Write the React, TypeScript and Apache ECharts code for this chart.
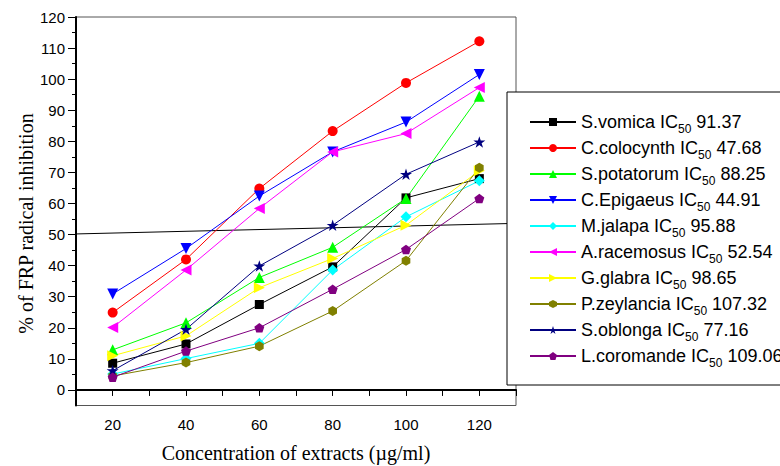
import React, { useEffect, useRef } from "react";
import * as echarts from "echarts";

const xValues = [20, 40, 60, 80, 100, 120];
const seriesNames = [
  "S.vomica",
  "C.colocynth",
  "S.potatorum",
  "C.Epigaeus",
  "M.jalapa",
  "A.racemosus",
  "G.glabra",
  "P.zeylancia",
  "S.oblonga",
  "L.coromande",
];
const ic50Values = ["91.37", "47.68", "88.25", "44.91", "95.88", "52.54", "98.65", "107.32", "77.16", "109.06"];

const sVomica = [8.6, 14.8, 27.5, 39.6, 61.8, 68.0];
const cColocynth = [24.9, 42.0, 64.8, 83.3, 98.8, 112.2];
const sPotatorum = [12.9, 21.6, 36.2, 45.9, 61.6, 94.5];
const cEpigaeus = [30.9, 45.5, 62.4, 76.6, 86.2, 101.5];
const mJalapa = [5.1, 10.1, 15.0, 38.6, 55.7, 67.3];
const aRacemosus = [20.1, 38.6, 58.4, 76.6, 82.5, 97.3];
const gGlabra = [11.0, 17.4, 32.9, 42.3, 53.0, 70.5];
const pZeylancia = [4.5, 8.8, 14.1, 25.4, 41.6, 71.5];
const sOblonga = [6.2, 19.5, 39.9, 53.0, 69.4, 79.8];
const lCoromande = [4.1, 12.5, 20.0, 32.4, 45.2, 61.6];

const thresholdX = [10, 130];
const thresholdY = [50.2, 53.6];

const yMajorTicks = [0, 10, 20, 30, 40, 50, 60, 70, 80, 90, 100, 110, 120];
const yMinorTicks = [5, 15, 25, 35, 45, 55, 65, 75, 85, 95, 105, 115];

const allValues = [sVomica, cColocynth, sPotatorum, cEpigaeus, mJalapa, aRacemosus, gGlabra, pZeylancia, sOblonga, lCoromande];

const STAR = "path://M50,0 L61.2,34.5 L97.6,34.5 L68.2,55.9 L79.4,90.5 L50,69.1 L20.6,90.5 L31.8,55.9 L2.4,34.5 L38.8,34.5 Z";
const PENTAGON = "path://M50,0 L97.6,34.5 L79.4,90.5 L20.6,90.5 L2.4,34.5 Z";
const HEXAGON = "path://M50,0 L93.3,25 L93.3,75 L50,100 L6.7,75 L6.7,25 Z";

const styles = [
  { color: "#000000", symbol: "rect", size: 9, rotate: 0 },
  { color: "#ff0000", symbol: "circle", size: 10, rotate: 0 },
  { color: "#00ff00", symbol: "triangle", size: 11, rotate: 0 },
  { color: "#0000ff", symbol: "triangle", size: 11, rotate: 180 },
  { color: "#00ffff", symbol: "diamond", size: 11, rotate: 0 },
  { color: "#ff00ff", symbol: "triangle", size: 11, rotate: 90 },
  { color: "#ffff00", symbol: "triangle", size: 11, rotate: -90 },
  { color: "#808000", symbol: HEXAGON, size: 10, rotate: 0 },
  { color: "#000080", symbol: STAR, size: 12, rotate: 0 },
  { color: "#800080", symbol: PENTAGON, size: 10, rotate: 0 },
];

export default function App() {
  const ref = useRef<HTMLDivElement>(null);
  useEffect(() => {
    if (!ref.current) return;
    const chart = echarts.init(ref.current, null, { renderer: "svg" });
    const series: any[] = seriesNames.map((name, i) => ({
      name,
      type: "line",
      data: xValues.map((x, j) => [x, allValues[i][j]]),
      symbol: styles[i].symbol,
      symbolSize: styles[i].size,
      symbolRotate: styles[i].rotate,
      symbolKeepAspect: true,
      showAllSymbol: true,
      lineStyle: { color: styles[i].color, width: 1 },
      itemStyle: { color: styles[i].color },
      z: 3,
    }));
    series.unshift({
      name: "threshold",
      type: "line",
      data: thresholdX.map((x, j) => [x, thresholdY[j]]),
      symbol: "none",
      lineStyle: { color: "#000", width: 1 },
      z: 2,
      silent: true,
    });
    chart.setOption({
      animation: false,
      backgroundColor: "#ffffff",
      grid: {
        left: 76,
        top: 17,
        right: 264,
        bottom: 60.5,
        containLabel: false,
        outerBoundsMode: "none",
        show: true,
        borderColor: "#555",
        borderWidth: 1,
        backgroundColor: "transparent",
      },
      xAxis: {
        type: "value",
        min: 10,
        max: 130,
        interval: 10,
        name: "Concentration of extracts (\u00b5g/ml)",
        nameLocation: "middle",
        nameGap: 37,
        nameTextStyle: { fontFamily: "Liberation Serif", fontSize: 20, color: "#000" },
        axisLine: { show: true, lineStyle: { color: "#000", width: 2 } },
        axisTick: { show: true, inside: false, length: 6, lineStyle: { color: "#000", width: 1 } },
        axisLabel: {
          fontFamily: "Liberation Sans",
          fontSize: 15,
          color: "#000",
          margin: 11,
          formatter: (v: number) => (v % 20 === 0 && v >= 20 && v <= 120 ? String(v) : ""),
        },
        splitLine: { show: false },
      },
      yAxis: [
        {
          type: "value",
          min: -5,
          max: 120,
          axisLine: { show: true, lineStyle: { color: "#000", width: 2 } },
          axisTick: { show: true, length: 8, customValues: yMajorTicks, lineStyle: { color: "#000", width: 1 } },
          axisLabel: {
            customValues: yMajorTicks,
            fontFamily: "Liberation Sans",
            fontSize: 15,
            color: "#000",
            margin: 11,
          },
          splitLine: { show: false },
        },
        {
          type: "value",
          min: -5,
          max: 120,
          position: "left",
          axisLine: { show: false },
          axisTick: { show: true, length: 4, customValues: yMinorTicks, lineStyle: { color: "#000", width: 1 } },
          axisLabel: { show: false },
          splitLine: { show: false },
        },
      ],
      legend: {
        data: seriesNames,
        orient: "vertical",
        left: 507,
        top: 92,
        backgroundColor: "#ffffff",
        borderColor: "#000",
        borderWidth: 1,
        padding: [17, 60, 16, 22],
        itemWidth: 46,
        itemHeight: 10,
        itemGap: 0,
        z: 10,
        formatter: (name: string) => {
          const i = seriesNames.indexOf(name);
          return `{a|${name} IC}{s|50}{a| ${ic50Values[i]}}`;
        },
        textStyle: {
          color: "#000",
          fontFamily: "Liberation Sans",
          fontSize: 18,
          lineHeight: 26,
          padding: [0, 0, 0, 0],
          rich: {
            a: { fontFamily: "Liberation Sans", fontSize: 18, color: "#000", lineHeight: 26 },
            s: { fontFamily: "Liberation Sans", fontSize: 12, color: "#000", lineHeight: 8, verticalAlign: "bottom" },
          },
        },
      },
      graphic: [
        {
          type: "text",
          x: 26,
          y: 223.5,
          rotation: Math.PI / 2,
          style: {
            text: "% of FRP radical inhibition",
            font: "20px 'Liberation Serif'",
            fill: "#000",
            textAlign: "center",
            textVerticalAlign: "middle",
          },
        },
      ],
      series,
    });
    return () => chart.dispose();
  }, []);
  return (
    <div
      ref={ref}
      style={{ position: "fixed", left: 0, top: 0, width: 780, height: 466, background: "#fff" }}
    />
  );
}
